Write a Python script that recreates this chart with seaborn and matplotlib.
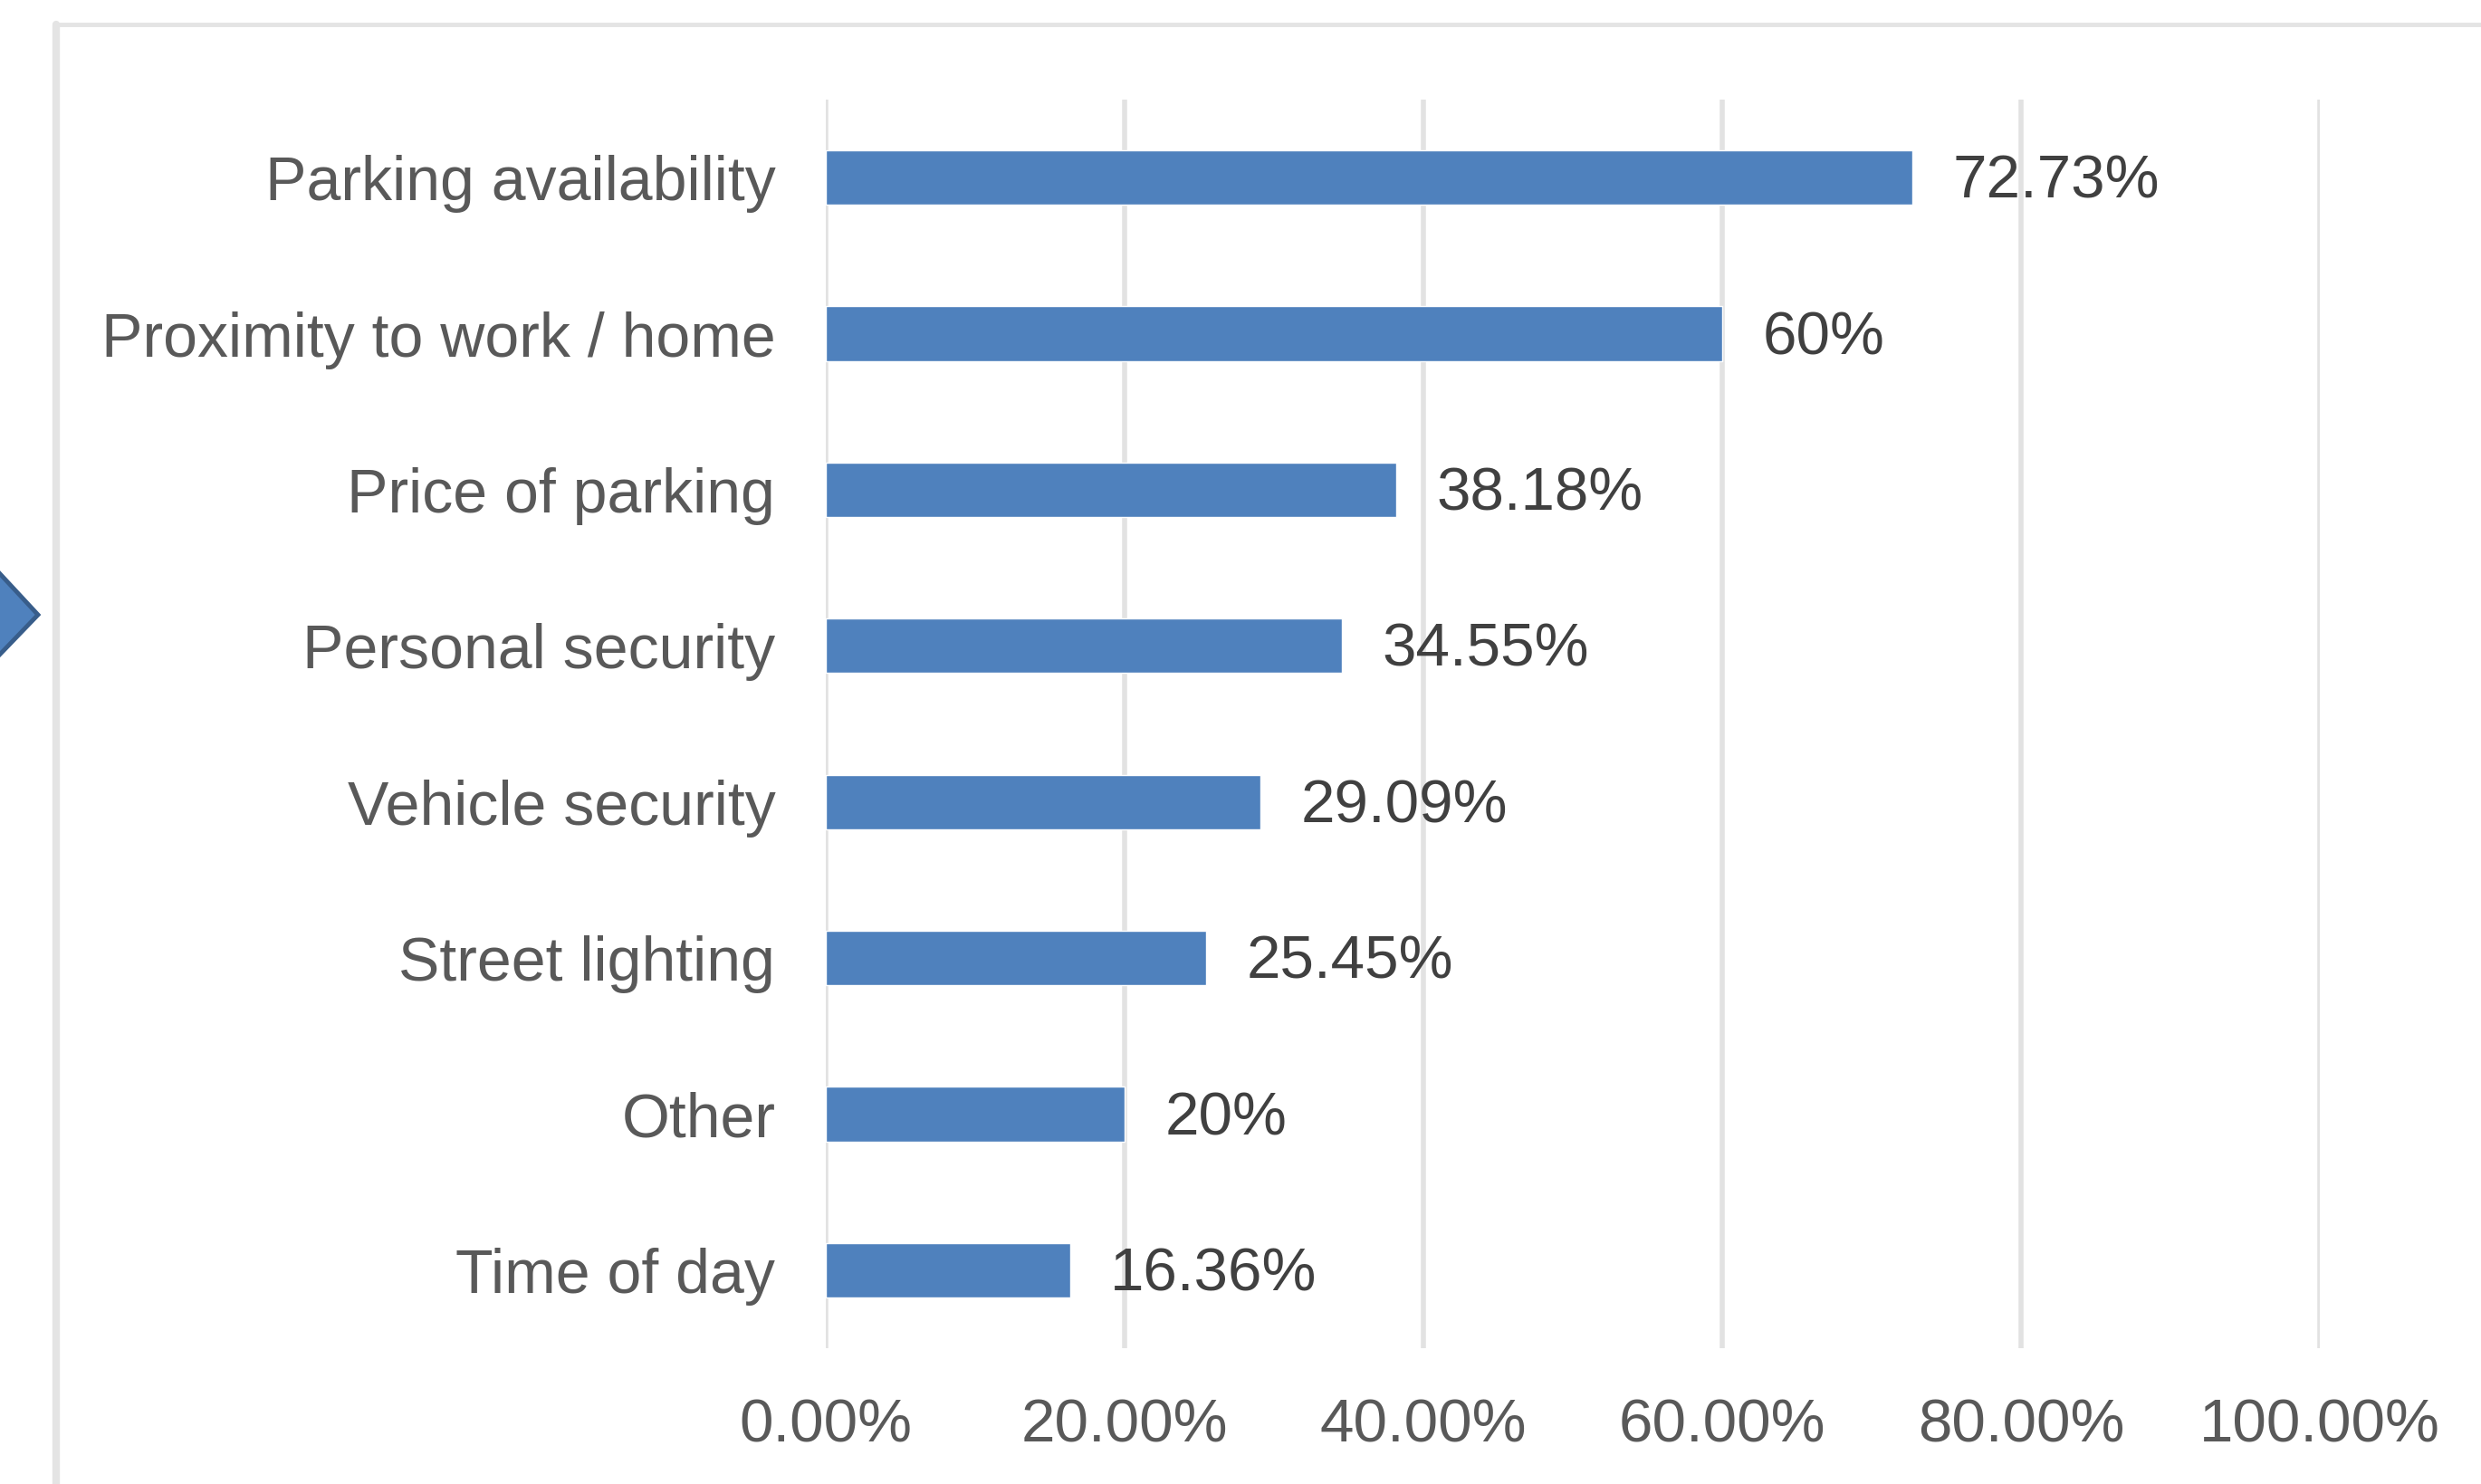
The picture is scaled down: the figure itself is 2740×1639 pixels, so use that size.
import matplotlib
matplotlib.use("Agg")
import matplotlib.pyplot as plt
import seaborn as sns
import pandas as pd
from matplotlib.patches import Polygon
from matplotlib.lines import Line2D
from matplotlib.ticker import FuncFormatter

categories = ["Parking availability", "Proximity to work / home", "Price of parking",
              "Personal security", "Vehicle security", "Street lighting", "Other", "Time of day"]
values = [72.73, 60, 38.18, 34.55, 29.09, 25.45, 20, 16.36]
x_ticks = [0, 20, 40, 60, 80, 100]

sns.set_theme(style="white")
plt.rcParams['font.family'] = ['Liberation Sans', 'DejaVu Sans']

df = pd.DataFrame({"category": categories, "value": values})

fig = plt.figure(figsize=(27.4, 16.39), dpi=100)
ax = fig.add_axes([0.3328, 0.0915, 0.935 - 0.3328, 0.9329 - 0.0915])

sns.barplot(data=df, x="value", y="category", orient="h", color="#4F81BD",
            saturation=1, width=0.35, ax=ax, zorder=3)

ax.set_xlim(0, 100)
ax.set_ylim(7.5, -0.5)
ax.set_xticks(x_ticks)
ax.xaxis.set_major_formatter(FuncFormatter(lambda v, p: f"{v:.2f}%"))
ax.grid(axis="x", color="#E2E2E2", linewidth=4, zorder=0)
ax.grid(axis="y", visible=False)
for s in ax.spines.values():
    s.set_visible(False)
ax.set_xlabel("")
ax.set_ylabel("")
ax.tick_params(axis="x", length=0, pad=40, labelsize=48.5, labelcolor="#595959")
ax.tick_params(axis="y", length=0, pad=40, labelsize=49, labelcolor="#595959")
for lbl in ax.get_yticklabels():
    lbl.set_va("center_baseline")

for i, v in enumerate(values):
    ax.annotate(f"{v:g}%", xy=(v, i), xytext=(32, -4), textcoords="offset points",
                ha="left", va="center", fontsize=48.5, color="#404040")

# outer frame (left and top edges)
fig.add_artist(Line2D([62 / 2740, 62 / 2740], [0, 1 - 27 / 1639], color="#E4E4E4",
                      linewidth=6, transform=fig.transFigure))
fig.add_artist(Line2D([62 / 2740, 1], [1 - 27 / 1639, 1 - 27 / 1639], color="#E4E4E4",
                      linewidth=3.5, transform=fig.transFigure))

# partial arrow shape at left edge
W, H = 2740, 1639
pts = [(-10 / W, 1 - 623 / H), (42 / W, 1 - 679 / H), (-10 / W, 1 - 733 / H)]
fig.add_artist(Polygon(pts, closed=True, facecolor="#4F81BD", edgecolor="#385D8A",
                       linewidth=3.5, transform=fig.transFigure))

fig.savefig("out.png", dpi=100, facecolor="white")
